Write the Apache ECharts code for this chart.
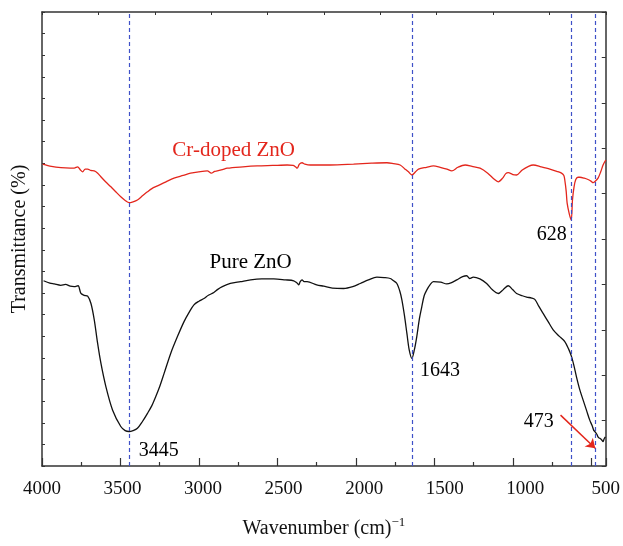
<!DOCTYPE html>
<html>
<head>
<meta charset="utf-8">
<script src="https://cdn.jsdelivr.net/npm/echarts@6/dist/echarts.min.js"></script>
<style>
  html, body { margin: 0; padding: 0; background: #fff; }
  #chart { width: 623px; height: 546px; }
</style>
</head>
<body>
<div id="chart"></div>
<script>
// FTIR spectra, wavenumber (cm-1) -> transmittance (arbitrary, 0-100 of the frame)
const pureZnO = [
  [3990,40.8],[3950,40.3],[3922,40.1],[3880,39.8],[3850,40.0],[3820,39.6],[3795,39.5],[3770,39.7],
  [3752,38.0],[3730,37.6],[3709,37.4],[3688,35.8],[3667,32.2],[3646,27.1],[3625,22.7],[3593,17.5],
  [3550,12.3],[3498,8.7],[3470,7.8],[3445,7.6],[3420,7.8],[3392,8.3],[3360,9.8],[3328,11.6],
  [3300,13.3],[3275,15.3],[3250,17.5],[3222,20.4],[3180,24.8],[3137,28.5],[3095,31.8],[3060,34.0],
  [3032,35.5],[3000,36.3],[2968,36.9],[2940,37.6],[2905,38.2],[2880,38.9],[2851,39.5],[2800,40.2],
  [2735,40.6],[2671,41.0],[2600,41.2],[2523,41.2],[2450,41.0],[2396,40.8],[2375,40.3],[2364,39.9],
  [2355,40.6],[2343,41.0],[2330,40.6],[2311,40.6],[2250,39.9],[2205,39.6],[2150,39.2],[2078,39.1],
  [2020,39.5],[1972,40.2],[1920,41.0],[1866,41.6],[1820,41.5],[1781,41.3],[1760,40.8],[1739,40.2],
  [1720,38.5],[1707,36.6],[1690,33.0],[1675,29.2],[1660,25.5],[1643,23.7],[1628,25.5],[1612,28.5],
  [1595,32.5],[1580,35.1],[1565,37.5],[1548,38.8],[1528,39.9],[1506,40.6],[1460,40.5],[1421,40.1],
  [1390,40.4],[1357,41.0],[1320,41.7],[1294,41.9],[1275,41.3],[1252,41.6],[1210,41.2],[1167,40.2],
  [1130,38.8],[1093,38.0],[1060,38.9],[1029,39.7],[1000,38.8],[976,38.0],[940,37.5],[912,37.2],
  [880,37.0],[860,36.7],[835,35.2],[807,33.6],[775,31.8],[743,30.0],[705,28.6],[669,27.4],
  [645,25.8],[626,24.1],[610,22.0],[595,19.7],[575,17.0],[552,14.5],[530,12.2],[510,10.1],
  [495,8.9],[485,7.9],[478,7.6],[465,7.0],[455,6.3],[446,6.1],[435,5.8],[425,5.4],[418,6.0],[410,6.4]
];
const crDopedZnO = [
  [3996,66.5],[3940,66.0],[3879,65.7],[3820,65.6],[3795,65.6],[3773,65.9],[3755,65.2],[3741,64.8],
  [3725,65.4],[3709,65.4],[3690,65.1],[3667,65.0],[3645,64.5],[3625,63.7],[3595,62.6],[3561,61.5],
  [3530,60.4],[3498,59.3],[3470,58.5],[3445,58.0],[3420,58.2],[3392,58.6],[3360,59.5],[3328,60.4],
  [3300,61.1],[3264,61.7],[3210,62.6],[3159,63.4],[3100,64.0],[3053,64.5],[3000,64.8],[2947,65.0],
  [2921,64.5],[2900,64.9],[2883,65.0],[2850,65.3],[2820,65.6],[2720,65.9],[2629,66.1],[2530,66.2],
  [2438,66.3],[2400,66.2],[2385,65.9],[2374,65.6],[2360,66.5],[2343,66.8],[2325,66.5],[2290,66.3],
  [2163,66.3],[2015,66.5],[1900,66.7],[1802,66.8],[1760,66.6],[1718,66.3],[1690,65.5],[1665,64.8],
  [1643,64.1],[1620,64.8],[1601,65.4],[1550,65.8],[1506,66.1],[1463,65.8],[1420,65.4],[1389,65.0],
  [1350,65.8],[1304,66.3],[1260,66.0],[1209,65.6],[1160,64.5],[1120,63.2],[1093,62.6],[1065,63.4],
  [1045,64.4],[1029,64.6],[1000,64.2],[976,64.1],[940,65.2],[900,66.0],[870,66.3],[820,65.9],
  [764,65.4],[720,64.9],[690,64.5],[675,64.0],[669,63.0],[660,60.5],[654,57.9],[640,55.5],
  [628,54.2],[620,58.6],[610,61.5],[599,63.1],[585,63.6],[573,63.6],[545,63.4],[521,63.1],
  [500,62.7],[489,62.4],[475,62.7],[457,63.4],[440,64.8],[425,66.3],[408,67.4]
];
const peakLines = [3445, 1643, 628, 473];
const tickLabels = [4000, 3500, 3000, 2500, 2000, 1500, 1000, 500];
// annotation anchor points in data coords
const notes = [
  { text: 'Cr-doped ZnO', at: [2779, 69.6], color: '#e3261c', align: 'center' },
  { text: 'Pure ZnO', at: [2671, 44.9], color: '#000', align: 'center' },
  { text: '3445', at: [3383, 3.3], color: '#000', align: 'left' },
  { text: '1643', at: [1591, 21.0], color: '#000', align: 'left' },
  { text: '628', at: [656, 50.9], color: '#000', align: 'right' },
  { text: '473', at: [739, 9.8], color: '#000', align: 'right' }
];
const arrow473 = [[696, 11.2], [475, 3.9]];

const xMin = 408, xMax = 4000;
const serif = 'Liberation Serif';
const frame = { lineStyle: { color: '#333', width: 1.5 } };

const chart = echarts.init(document.getElementById('chart'));
chart.setOption({
  animation: false,
  grid: { left: 42, right: 17, top: 12, bottom: 80 },
  xAxis: [
    // data axis
    { type: 'value', min: xMin, max: xMax, inverse: true, show: false },
    // ticks (distance from 4000)
    { type: 'value', position: 'bottom', min: 0, max: xMax - xMin, interval: 500,
      axisLine: frame, axisLabel: { show: false }, splitLine: { show: false },
      axisTick: { inside: true, length: 8, lineStyle: { color: '#333', width: 1.2 } },
      minorTick: { show: true, splitNumber: 2, length: 4, lineStyle: { color: '#333', width: 1.2 } } },
    // tick labels, as printed on the figure
    { type: 'value', position: 'bottom', min: 500, max: 4000, interval: 500, inverse: true,
      axisLine: { show: false }, axisTick: { show: false }, splitLine: { show: false },
      axisLabel: { margin: 14, color: '#111', fontFamily: serif, fontSize: 19,
        formatter: v => tickLabels.includes(v) ? String(v) : '' },
      name: 'Wavenumber (cm){sup|\u22121}', nameLocation: 'middle', nameGap: 50,
      nameTextStyle: { color: '#111', fontFamily: serif, fontSize: 20,
        rich: { sup: { fontFamily: serif, fontSize: 13, verticalAlign: 'top', padding: [0, 0, 12, 0] } } } },
    // top frame
    { type: 'value', position: 'top', min: 0, max: 10, interval: 1,
      axisLine: frame, axisLabel: { show: false }, splitLine: { show: false },
      axisTick: { inside: true, length: 3, lineStyle: { color: '#333' } } }
  ],
  yAxis: [
    { type: 'value', min: 0, max: 100, show: false },
    { type: 'value', position: 'left', min: 0, max: 21, interval: 1,
      axisLine: frame, axisLabel: { show: false }, splitLine: { show: false },
      axisTick: { inside: true, length: 3, lineStyle: { color: '#333' } },
      name: 'Transmittance (%)', nameLocation: 'middle', nameGap: 12,
      nameTextStyle: { color: '#111', fontFamily: serif, fontSize: 20 } },
    { type: 'value', position: 'right', min: 0, max: 10, interval: 1,
      axisLine: frame, axisLabel: { show: false }, splitLine: { show: false },
      axisTick: { inside: true, length: 4, lineStyle: { color: '#333' } } }
  ],
  series: [
    { name: 'Cr-doped ZnO', type: 'line', data: crDopedZnO, showSymbol: false, smooth: 0.3,
      lineStyle: { color: '#e3261c', width: 1.3 }, itemStyle: { color: '#e3261c' },
      markLine: { silent: true, symbol: 'none', label: { show: false },
        lineStyle: { color: '#3f51c8', type: [4, 3], width: 1.2 },
        data: peakLines.map(v => ({ xAxis: v })) } },
    { name: 'Pure ZnO', type: 'line', data: pureZnO, showSymbol: false, smooth: 0.3,
      lineStyle: { color: '#111', width: 1.3 }, itemStyle: { color: '#111' },
      markLine: { silent: true, symbol: ['none', 'arrow'], symbolSize: 9, label: { show: false },
        lineStyle: { color: '#e3261c', type: 'solid', width: 1.5 },
        data: [[{ coord: arrow473[0] }, { coord: arrow473[1] }]] } },
    { name: 'notes', type: 'scatter', symbolSize: 0, silent: true,
      itemStyle: { opacity: 1 },
      data: notes.map(n => ({ value: n.at,
        label: { show: true, position: 'inside', formatter: n.text, align: n.align,
          verticalAlign: 'middle', color: n.color, opacity: 1, textBorderWidth: 0,
          fontFamily: serif, fontSize: n.text.length > 4 ? 21 : 20 } })) }
  ]
});
</script>
</body>
</html>
